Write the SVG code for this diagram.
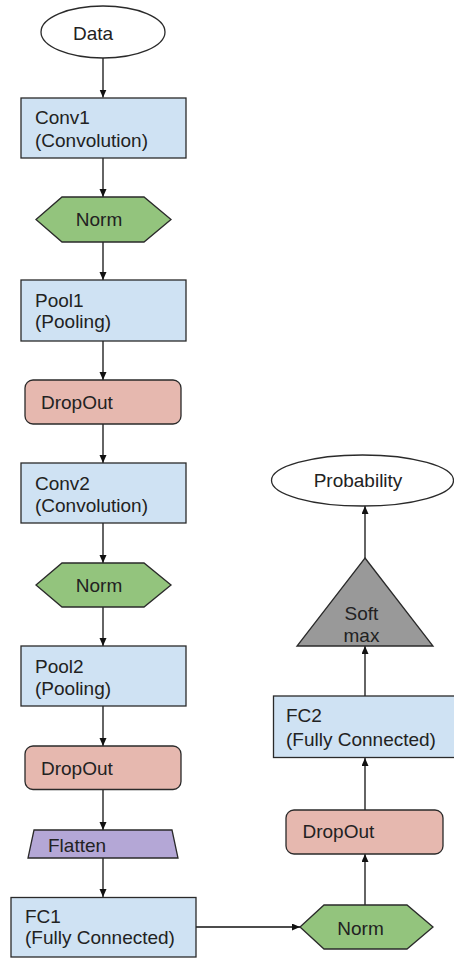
<svg xmlns="http://www.w3.org/2000/svg" width="454" height="958" viewBox="0 0 454 958">
  <style>
    .shape { stroke: #2a2a2a; stroke-width: 1.3; }
    .blue { fill: #cfe2f3; }
    .green { fill: #93c47d; }
    .red { fill: #e6b8af; }
    .purple { fill: #b4a7d6; }
    .gray { fill: #999999; }
    .white { fill: #ffffff; }
    text { font-family: "Liberation Sans", Arial, sans-serif; font-size: 19px; fill: #222222; }
    .mid { text-anchor: middle; }
    .conn { stroke: #111111; stroke-width: 1.3; fill: none; marker-end: url(#arrow); }
  </style>
  <defs>
    <marker id="arrow" markerUnits="userSpaceOnUse" markerWidth="8" markerHeight="8" refX="8" refY="3.5" orient="auto">
      <path d="M0,0 L8,3.5 L0,7 z" fill="#111111"/>
    </marker>
  </defs>
  <rect width="454" height="958" fill="#ffffff"/>

  <g id="connectors">
    <line class="conn" x1="103" y1="58" x2="103" y2="97.5"/>
    <line class="conn" x1="103" y1="158" x2="103" y2="197"/>
    <line class="conn" x1="103" y1="242" x2="103" y2="280"/>
    <line class="conn" x1="103" y1="341" x2="103" y2="380"/>
    <line class="conn" x1="103" y1="424" x2="103" y2="463"/>
    <line class="conn" x1="103" y1="523" x2="103" y2="563"/>
    <line class="conn" x1="103" y1="607" x2="103" y2="646"/>
    <line class="conn" x1="103" y1="706" x2="103" y2="746"/>
    <line class="conn" x1="103" y1="789" x2="103" y2="830"/>
    <line class="conn" x1="103" y1="858" x2="103" y2="897"/>
    <line class="conn" x1="196" y1="927" x2="300" y2="927"/>
    <line class="conn" x1="365" y1="905" x2="365" y2="854"/>
    <line class="conn" x1="365" y1="810" x2="365" y2="758"/>
    <line class="conn" x1="365" y1="697" x2="365" y2="646"/>
    <line class="conn" x1="365" y1="558" x2="365" y2="506"/>
  </g>

  <g id="data">
    <ellipse class="shape white" cx="103" cy="32" rx="62" ry="26"/>
    <text class="mid" x="93" y="39.5">Data</text>
  </g>

  <g id="conv1">
    <rect class="shape blue" x="21" y="98" width="165" height="60"/>
    <text x="35" y="123.5">Conv1</text>
    <text x="35" y="147">(Convolution)</text>
  </g>

  <g id="norm1">
    <polygon class="shape green" points="36,219.5 62,197 144,197 171,219.5 144,242 62,242"/>
    <text class="mid" x="99" y="225.5">Norm</text>
  </g>

  <g id="pool1">
    <rect class="shape blue" x="21" y="280" width="165" height="61"/>
    <text x="35" y="306.5">Pool1</text>
    <text x="35" y="328">(Pooling)</text>
  </g>

  <g id="dropout1">
    <rect class="shape red" x="25" y="380" width="156" height="44" rx="8" ry="8"/>
    <text x="41" y="409">DropOut</text>
  </g>

  <g id="conv2">
    <rect class="shape blue" x="21" y="463" width="165" height="60"/>
    <text x="35" y="490">Conv2</text>
    <text x="35" y="512">(Convolution)</text>
  </g>

  <g id="norm2">
    <polygon class="shape green" points="36,585 62,563 144,563 171,585 144,607 62,607"/>
    <text class="mid" x="99" y="591.5">Norm</text>
  </g>

  <g id="pool2">
    <rect class="shape blue" x="21" y="646" width="165" height="60"/>
    <text x="35" y="673">Pool2</text>
    <text x="35" y="695">(Pooling)</text>
  </g>

  <g id="dropout2">
    <rect class="shape red" x="25" y="746" width="156" height="43.5" rx="8" ry="8"/>
    <text x="41" y="775">DropOut</text>
  </g>

  <g id="flatten">
    <polygon class="shape purple" points="34,830 172,830 178,858 28,858"/>
    <text x="48" y="851.5">Flatten</text>
  </g>

  <g id="fc1">
    <rect class="shape blue" x="11" y="897.5" width="185" height="59.5"/>
    <text x="25" y="922.5">FC1</text>
    <text x="25" y="944">(Fully Connected)</text>
  </g>

  <g id="norm3">
    <polygon class="shape green" points="300,927 324,905 407,905 433,927 407,949 324,949"/>
    <text class="mid" x="360.5" y="935">Norm</text>
  </g>

  <g id="dropout3">
    <rect class="shape red" x="286" y="810" width="157" height="44" rx="8" ry="8"/>
    <text x="302.5" y="838">DropOut</text>
  </g>

  <g id="fc2">
    <rect class="shape blue" x="273.5" y="696" width="190" height="61.5"/>
    <text x="286" y="721.5">FC2</text>
    <text x="286" y="746">(Fully Connected)</text>
  </g>

  <g id="softmax">
    <polygon class="shape gray" points="365,558 433,646 297,646"/>
    <text class="mid" x="361.5" y="620">Soft</text>
    <text class="mid" x="361.5" y="641.5">max</text>
  </g>

  <g id="probability">
    <ellipse class="shape white" cx="362.5" cy="480.5" rx="91" ry="25.5"/>
    <text class="mid" x="358" y="486.5">Probability</text>
  </g>
</svg>
